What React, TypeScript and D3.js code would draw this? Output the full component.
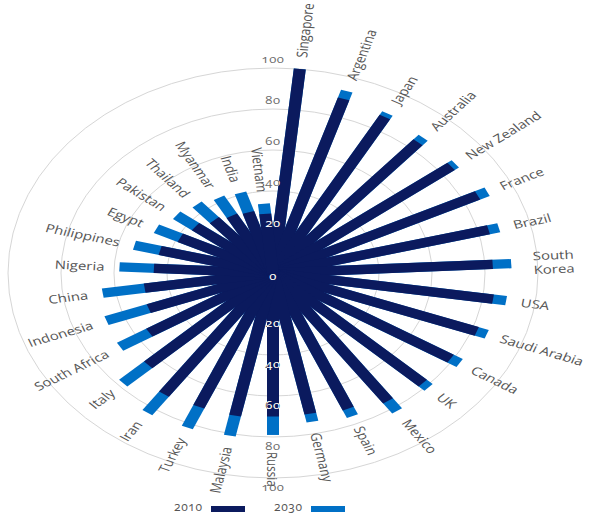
import React from "react";
import * as d3 from "d3";

// urban population share (%)
const countries = [
  "Singapore", "Argentina", "Japan", "Australia", "New Zealand", "France",
  "Brazil", "South Korea", "USA", "Saudi Arabia", "Canada", "UK", "Mexico",
  "Spain", "Germany", "Russia", "Malaysia", "Turkey", "Iran", "Italy",
  "South Africa", "Indonesia", "China", "Nigeria", "Philippines", "Egypt",
  "Pakistan", "Thailand", "Myanmar", "India", "Vietnam",
];
const values2010 = [
  100, 89, 87, 84, 85, 86, 84, 83, 84, 82, 79, 78, 76, 72, 70, 70, 71, 71, 72,
  65, 55, 50, 49, 45, 44, 39, 37, 34, 32, 31, 29,
];
const values2030 = [
  100, 93, 89, 87, 87, 90, 88, 90, 89, 86, 83, 81, 82, 76, 74, 79, 81, 82, 83,
  78, 68, 67, 65, 58, 54, 49, 46, 44, 42, 41, 34,
];
const radialTicks = [20, 40, 60, 80, 100];
const legendLabels = ["2010", "2030"];

const W = 590;
const H = 514;
const cx = 273;
const cy = 273;
const R = 265; // radius of the 100 ring before the vertical squash
const squash = 205 / 265; // the whole polar chart is flattened vertically
const barWidth = 12;
const DARK = "#0b1a5e";
const LIGHT = "#0070c6";
const TEXT = "#555555";
const FONT = "'Open Sans', 'DejaVu Sans', sans-serif";

export default function App() {
  const angle = d3.scaleBand<string>().domain(countries).range([0, 2 * Math.PI]);
  const r = d3.scaleLinear().domain([0, 100]).range([0, R]);
  const color = d3.scaleOrdinal<string, string>().domain(legendLabels).range([DARK, LIGHT]);

  const theta = (c: string) => angle(c)! + angle.bandwidth() / 2;
  const deg = (c: string) => (theta(c) * 180) / Math.PI;

  // one bar: a rectangle pointing up, rotated into place
  const bar = (c: string, v: number, fill?: string, key?: string) => (
    <rect
      key={key}
      x={-barWidth / 2}
      y={-r(v)}
      width={barWidth}
      height={r(v)}
      fill={fill}
      transform={`rotate(${deg(c)})`}
    />
  );

  // screen y of each axis number, mapped back into the squashed frame
  const tickLabels = [
    ...radialTicks.map((t) => ({ t, y: (-r(t) * squash - 9) / squash })),
    { t: 0, y: 3 / squash },
    ...radialTicks.map((t) => ({ t, y: (r(t) * squash + 9) / squash })),
  ];

  const tickText = (fill: string) =>
    tickLabels.map((d, i) => (
      <text
        key={i}
        x={0}
        y={d.y}
        textAnchor="middle"
        dominantBaseline="central"
        fill={fill}
        fontSize={13}
        letterSpacing={0.6}
        style={{ fontVariantNumeric: "oldstyle-nums" }}
      >
        {d.t}
      </text>
    ));

  return (
    <svg
      width={W}
      height={H}
      style={{ position: "absolute", left: 0, top: 0, fontFamily: FONT }}
    >
      <g transform={`translate(${cx},${cy}) scale(1,${squash})`}>
        <defs>
          <clipPath id="bars-clip">
            {countries.map((c, i) =>
              bar(c, Math.max(values2010[i], values2030[i]), undefined, "clip" + c)
            )}
          </clipPath>
        </defs>

        {/* grid */}
        {radialTicks.map((t) => (
          <circle
            key={t}
            r={r(t)}
            fill="none"
            stroke="#d6d6d6"
            strokeWidth={1}
            vectorEffect="non-scaling-stroke"
          />
        ))}

        {/* 2030 underneath, 2010 on top */}
        {countries.map((c, i) => bar(c, values2030[i], color("2030"), "b30" + c))}
        {countries.map((c, i) => bar(c, values2010[i], color("2010"), "b10" + c))}

        {/* axis numbers: grey, white where they sit on a bar */}
        <g>{tickText("#6a6a6a")}</g>
        <g clipPath="url(#bars-clip)">{tickText("#ffffff")}</g>

        {/* country labels */}
        {countries.map((c, i) => {
          const v = Math.max(values2010[i], values2030[i]);
          const a = deg(c);
          const right = theta(c) < Math.PI + 0.01;
          const off = c === "Russia" || c === "South Korea" ? 22 : 15;
          const lines = c === "South Korea" ? ["South", "Korea"] : [c];
          return (
            <text
              key={"l" + c}
              transform={`rotate(${a - 90}) translate(${r(v) + off},0) rotate(${right ? 0 : 180})`}
              textAnchor={right ? "start" : "end"}
              dominantBaseline="central"
              fill={TEXT}
              fontSize={15}
            >
              {lines.map((s, k) => (
                <tspan
                  key={s}
                  x={0}
                  dy={lines.length > 1 ? (k === 0 ? "-0.6em" : "1.2em") : 0}
                >
                  {s}
                </tspan>
              ))}
            </text>
          );
        })}
      </g>

      {/* legend */}
      {legendLabels.map((s, i) => (
        <g key={s} transform={`translate(${174 + i * 100},0)`}>
          <text
            x={0}
            y={506}
            dominantBaseline="central"
            fill={TEXT}
            fontSize={12}
            letterSpacing={0.6}
            style={{ fontVariantNumeric: "oldstyle-nums" }}
          >
            {s}
          </text>
          <rect x={37} y={506} width={34} height={6} fill={color(s)} />
        </g>
      ))}
    </svg>
  );
}
